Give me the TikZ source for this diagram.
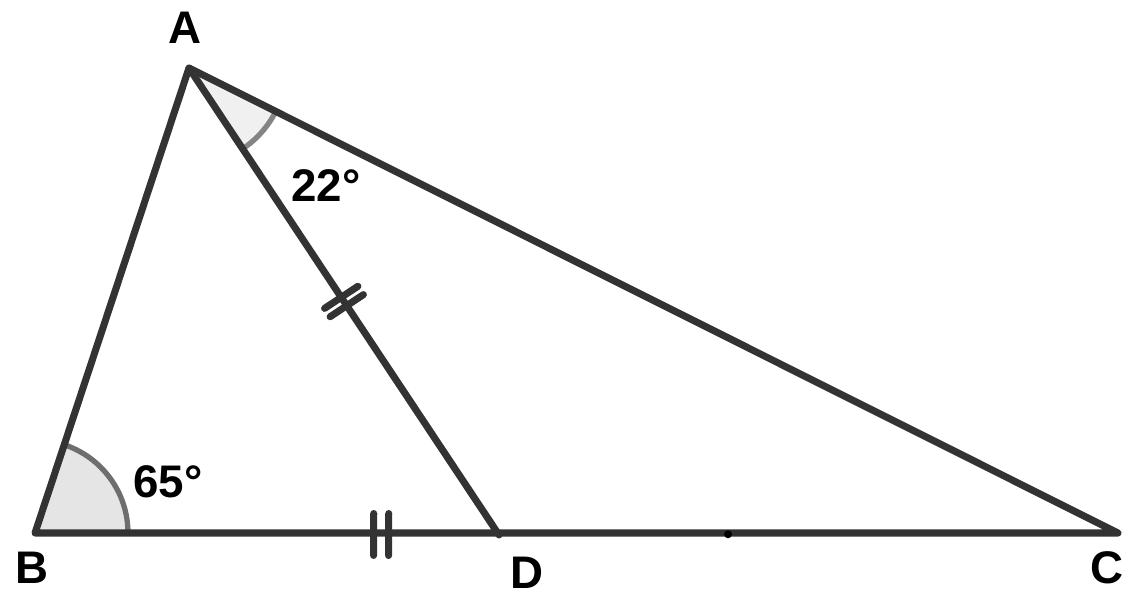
\documentclass[tikz,border=0pt]{standalone}
\usepackage{fontspec}
\setmainfont{Liberation Sans}
\usetikzlibrary{calc}
\definecolor{edge}{HTML}{333333}
\definecolor{arcline}{HTML}{6E6E6E}

\begin{document}
\begin{tikzpicture}[
	x=0.02cm, y=-0.02cm,
	side/.style={edge, line width=4pt, line join=round, line cap=round},
	tick/.style={edge, line width=4pt, line cap=round},
	lbl/.style={font=\fontsize{26}{30}\selectfont\bfseries, inner sep=0pt},
	angB/.style={fill=black!10, draw=arcline, line width=3pt},
	angA/.style={fill=black!6, draw=arcline!85, line width=3pt}
	]
	\useasboundingbox (0,0) rectangle (1136,609);

	\coordinate (A) at (189, 68);
	\coordinate (B) at (35, 533);
	\coordinate (D) at (499, 535);
	\coordinate (C) at (1118, 533);

	% Angles
	\begin{scope}
		\path[clip] (B) -- (D) -- (A) -- cycle;
		\draw[angB] (B) circle (1.86cm);
	\end{scope}
	\begin{scope}
		\path[clip] (A) -- (D) -- (C) -- cycle;
		\draw[angA] (A) circle (1.94cm);
	\end{scope}

	% Triangle
	\draw[side] (A) -- (B) -- (C) -- cycle;
	\draw[side] (A) -- (D);

	% Equal marks
	\coordinate (M1) at ($(A)!.5!(D)$);
	\coordinate (T1) at ($(M1)!0.1cm!(A)$);
	\coordinate (T2) at ($(M1)!0.1cm!(D)$);
	\draw[tick] ($(T1)!0.4cm!90:(D)$) -- ($(T1)!0.4cm!-90:(D)$);
	\draw[tick] ($(T2)!0.4cm!90:(D)$) -- ($(T2)!0.4cm!-90:(D)$);
	\coordinate (M2) at ($(B)!.746!(D)$);
	\coordinate (T3) at ($(M2)!0.15cm!(B)$);
	\coordinate (T4) at ($(M2)!0.15cm!(D)$);
	\draw[tick] ($(T3)!0.42cm!90:(D)$) -- ($(T3)!0.42cm!-90:(D)$);
	\draw[tick] ($(T4)!0.42cm!90:(D)$) -- ($(T4)!0.42cm!-90:(D)$);

	\coordinate (P) at ($(D)!.37!(C)$);
	\fill[black] (P) circle (0.08cm);

	% Labels
	\node[lbl] (lA) at (185, 28) {A};
	\node[lbl] (lB) at (32, 568) {B};
	\node[lbl] (lD) at (527, 573) {D};
	\node[lbl] (lC) at (1107, 568) {C};
	\node[lbl] (aA) at (326, 186) {22°};
	\node[lbl] (aB) at (168, 482) {65°};
\end{tikzpicture}
\end{document}
